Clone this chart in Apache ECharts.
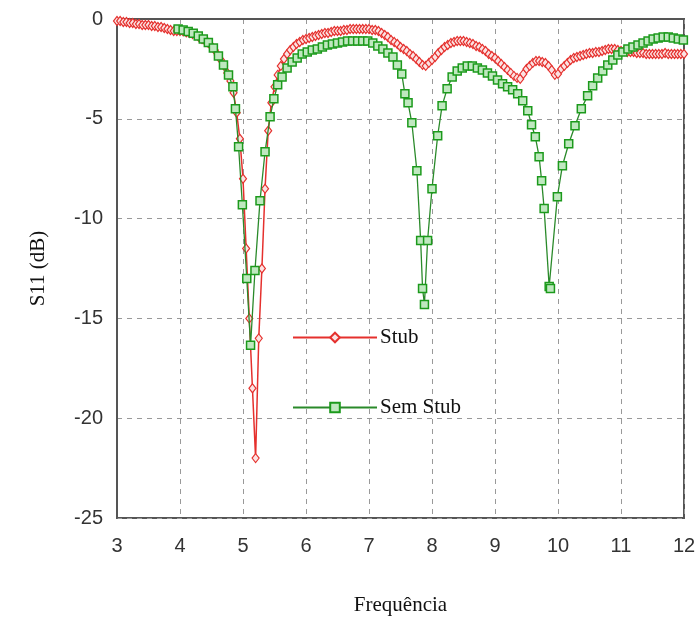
<!DOCTYPE html>
<html><head><meta charset="utf-8">
<script src="https://cdn.jsdelivr.net/npm/echarts@6/dist/echarts.min.js"></script>
<style>html,body{margin:0;padding:0;background:#fff}#c{width:700px;height:624px}</style>
</head><body><div id="c"></div>
<script>
const xTicks = [3,4,5,6,7,8,9,10,11,12];
const yTicks = [0,-5,-10,-15,-20,-25];
const seriesNames = ['Stub','Sem Stub'];

const stubFreq = [3.00,3.05,3.10,3.15,3.20,3.25,3.30,3.35,3.40,3.45,3.50,3.55,3.60,3.65,3.70,3.75,3.80,3.85,3.90,3.95,
4.00,4.05,4.10,4.15,4.20,4.25,4.30,4.35,4.40,4.45,4.50,4.55,4.60,4.65,4.70,4.75,4.80,4.85,4.90,4.95,
5.00,5.05,5.10,5.15,5.20,5.25,5.30,5.35,5.40,5.45,5.50,5.55,5.60,5.65,5.70,5.75,5.80,5.85,5.90,5.95,
6.00,6.05,6.10,6.15,6.20,6.25,6.30,6.35,6.40,6.45,6.50,6.55,6.60,6.65,6.70,6.75,6.80,6.85,6.90,6.95,
7.00,7.05,7.10,7.15,7.20,7.25,7.30,7.35,7.40,7.45,7.50,7.55,7.60,7.65,7.70,7.75,7.80,7.85,7.90,7.95,
8.00,8.05,8.10,8.15,8.20,8.25,8.30,8.35,8.40,8.45,8.50,8.55,8.60,8.65,8.70,8.75,8.80,8.85,8.90,8.95,
9.00,9.05,9.10,9.15,9.20,9.25,9.30,9.35,9.40,9.45,9.50,9.55,9.60,9.65,9.70,9.75,9.80,9.85,9.90,9.95,
10.00,10.05,10.10,10.15,10.20,10.25,10.30,10.35,10.40,10.45,10.50,10.55,10.60,10.65,10.70,10.75,10.80,10.85,10.90,10.95,
11.00,11.05,11.10,11.15,11.20,11.25,11.30,11.35,11.40,11.45,11.50,11.55,11.60,11.65,11.70,11.75,11.80,11.85,11.90,11.95,12.00];
const stubS11 = [-0.10,-0.10,-0.15,-0.15,-0.20,-0.20,-0.25,-0.25,-0.30,-0.30,-0.30,-0.35,-0.35,-0.40,-0.40,-0.45,-0.50,-0.55,-0.60,-0.60,
-0.60,-0.62,-0.66,-0.70,-0.75,-0.80,-0.90,-1.00,-1.10,-1.20,-1.35,-1.55,-1.80,-2.05,-2.35,-2.70,-3.10,-3.70,-4.70,-6.00,
-8.00,-11.50,-15.00,-18.50,-22.00,-16.00,-12.50,-8.50,-5.60,-4.20,-3.40,-2.80,-2.35,-2.00,-1.75,-1.55,-1.40,-1.25,-1.15,-1.05,
-1.00,-0.95,-0.90,-0.85,-0.80,-0.75,-0.70,-0.70,-0.65,-0.60,-0.60,-0.60,-0.55,-0.55,-0.50,-0.50,-0.50,-0.50,-0.50,-0.50,
-0.50,-0.55,-0.55,-0.60,-0.70,-0.80,-0.90,-1.05,-1.15,-1.25,-1.40,-1.50,-1.60,-1.75,-1.85,-2.00,-2.15,-2.30,-2.35,-2.20,
-2.05,-1.90,-1.70,-1.55,-1.40,-1.30,-1.20,-1.15,-1.10,-1.10,-1.10,-1.15,-1.20,-1.25,-1.35,-1.40,-1.50,-1.60,-1.75,-1.85,
-1.95,-2.10,-2.25,-2.40,-2.55,-2.70,-2.85,-2.95,-3.00,-2.75,-2.50,-2.35,-2.20,-2.10,-2.10,-2.15,-2.20,-2.35,-2.55,-2.80,
-2.75,-2.50,-2.35,-2.20,-2.05,-1.95,-1.90,-1.85,-1.80,-1.75,-1.70,-1.70,-1.65,-1.65,-1.60,-1.55,-1.50,-1.50,-1.50,-1.55,
-1.60,-1.60,-1.65,-1.65,-1.65,-1.70,-1.70,-1.70,-1.75,-1.75,-1.75,-1.75,-1.75,-1.75,-1.70,-1.75,-1.75,-1.75,-1.75,-1.75,-1.75];

const semFreq = [3.97,4.05,4.13,4.21,4.29,4.37,4.45,4.53,4.61,4.69,4.77,4.84,4.88,4.93,4.99,5.06,5.12,5.19,5.27,5.35,
5.43,5.49,5.55,5.62,5.70,5.78,5.86,5.94,6.02,6.10,6.18,6.26,6.34,6.42,6.50,6.58,6.66,6.74,6.82,6.90,
6.98,7.06,7.14,7.22,7.30,7.38,7.45,7.52,7.57,7.62,7.68,7.76,7.82,7.85,7.88,7.93,8.00,8.09,8.16,8.24,
8.32,8.40,8.48,8.56,8.64,8.72,8.80,8.88,8.96,9.04,9.12,9.20,9.28,9.36,9.44,9.52,9.58,9.64,9.70,9.74,
9.78,9.86,9.88,9.99,10.07,10.17,10.27,10.37,10.47,10.55,10.63,10.71,10.79,10.87,10.95,11.03,11.11,11.19,11.27,11.35,
11.43,11.51,11.59,11.67,11.75,11.83,11.91,11.99];
const semS11 = [-0.50,-0.55,-0.62,-0.72,-0.85,-1.00,-1.18,-1.45,-1.85,-2.30,-2.80,-3.40,-4.50,-6.40,-9.30,-13.00,-16.35,-12.60,-9.10,-6.65,
-4.90,-4.00,-3.30,-2.90,-2.45,-2.15,-1.95,-1.75,-1.65,-1.55,-1.50,-1.40,-1.30,-1.25,-1.20,-1.15,-1.10,-1.10,-1.10,-1.10,
-1.10,-1.20,-1.35,-1.50,-1.70,-1.90,-2.30,-2.75,-3.75,-4.20,-5.20,-7.60,-11.10,-13.50,-14.30,-11.10,-8.50,-5.85,-4.35,-3.50,
-2.90,-2.60,-2.45,-2.35,-2.35,-2.45,-2.55,-2.70,-2.85,-3.05,-3.25,-3.40,-3.55,-3.75,-4.10,-4.60,-5.30,-5.90,-6.90,-8.10,
-9.50,-13.40,-13.50,-8.90,-7.35,-6.25,-5.35,-4.50,-3.85,-3.35,-2.95,-2.60,-2.30,-2.05,-1.80,-1.65,-1.50,-1.40,-1.30,-1.20,
-1.10,-1.00,-0.95,-0.90,-0.90,-0.95,-1.00,-1.05];

const zip = (a,b) => a.map((v,i)=>[v,b[i]]);
const red = '#e5302d', green = '#1c9a1c';
const chart = echarts.init(document.getElementById('c'), null, {renderer:'canvas'});
const sansFont = '"Liberation Sans", Arial, sans-serif';
const serifFont = '"Liberation Serif", "Times New Roman", serif';
chart.setOption({
  animation:false,
  backgroundColor:'#fff',
  grid:{left:117, top:19, width:567, height:499, show:true, borderColor:'#555', borderWidth:2, backgroundColor:'transparent'},
  xAxis:{type:'value', min:xTicks[0], max:xTicks[xTicks.length-1], interval:1,
    name:'Frequência', nameLocation:'middle', nameGap:77,
    nameTextStyle:{fontFamily:serifFont, fontSize:21, color:'#111'},
    axisLine:{show:true, lineStyle:{color:'#555', width:2}}, axisTick:{show:false},
    axisLabel:{margin:18, fontFamily:sansFont, fontSize:20, color:'#333'},
    splitLine:{show:true, lineStyle:{color:'#999', type:[5,5], width:1}}},
  yAxis:{type:'value', min:yTicks[yTicks.length-1], max:yTicks[0], interval:5,
    name:'S11 (dB)', nameLocation:'middle', nameGap:68, nameRotate:90,
    nameTextStyle:{fontFamily:serifFont, fontSize:21, color:'#111'},
    axisLine:{show:true, lineStyle:{color:'#555', width:2}}, axisTick:{show:false},
    axisLabel:{margin:14, fontFamily:sansFont, fontSize:20, color:'#333'},
    splitLine:{show:true, lineStyle:{color:'#999', type:[5,5], width:1}}},
  legend:{orient:'vertical', left:287, top:322, itemGap:49, itemWidth:84, itemHeight:12,
    textStyle:{fontFamily:serifFont, fontSize:21, color:'#111', padding:[0,0,0,-2]},
    data:seriesNames},
  series:[
    {name:seriesNames[0], type:'line', data:zip(stubFreq,stubS11), color:red,
     symbol:'diamond', symbolSize:[7,9], showAllSymbol:true,
     lineStyle:{color:red, width:1.5},
     itemStyle:{color:'#fbe3e3', borderColor:red, borderWidth:1.2}, z:3},
    {name:seriesNames[1], type:'line', data:zip(semFreq,semS11), color:green,
     symbol:'rect', symbolSize:8, showAllSymbol:true,
     lineStyle:{color:'#2a8a2a', width:1.3},
     itemStyle:{color:'#bfe8bf', borderColor:green, borderWidth:1.5}, z:4}
  ]
});
</script></body></html>
